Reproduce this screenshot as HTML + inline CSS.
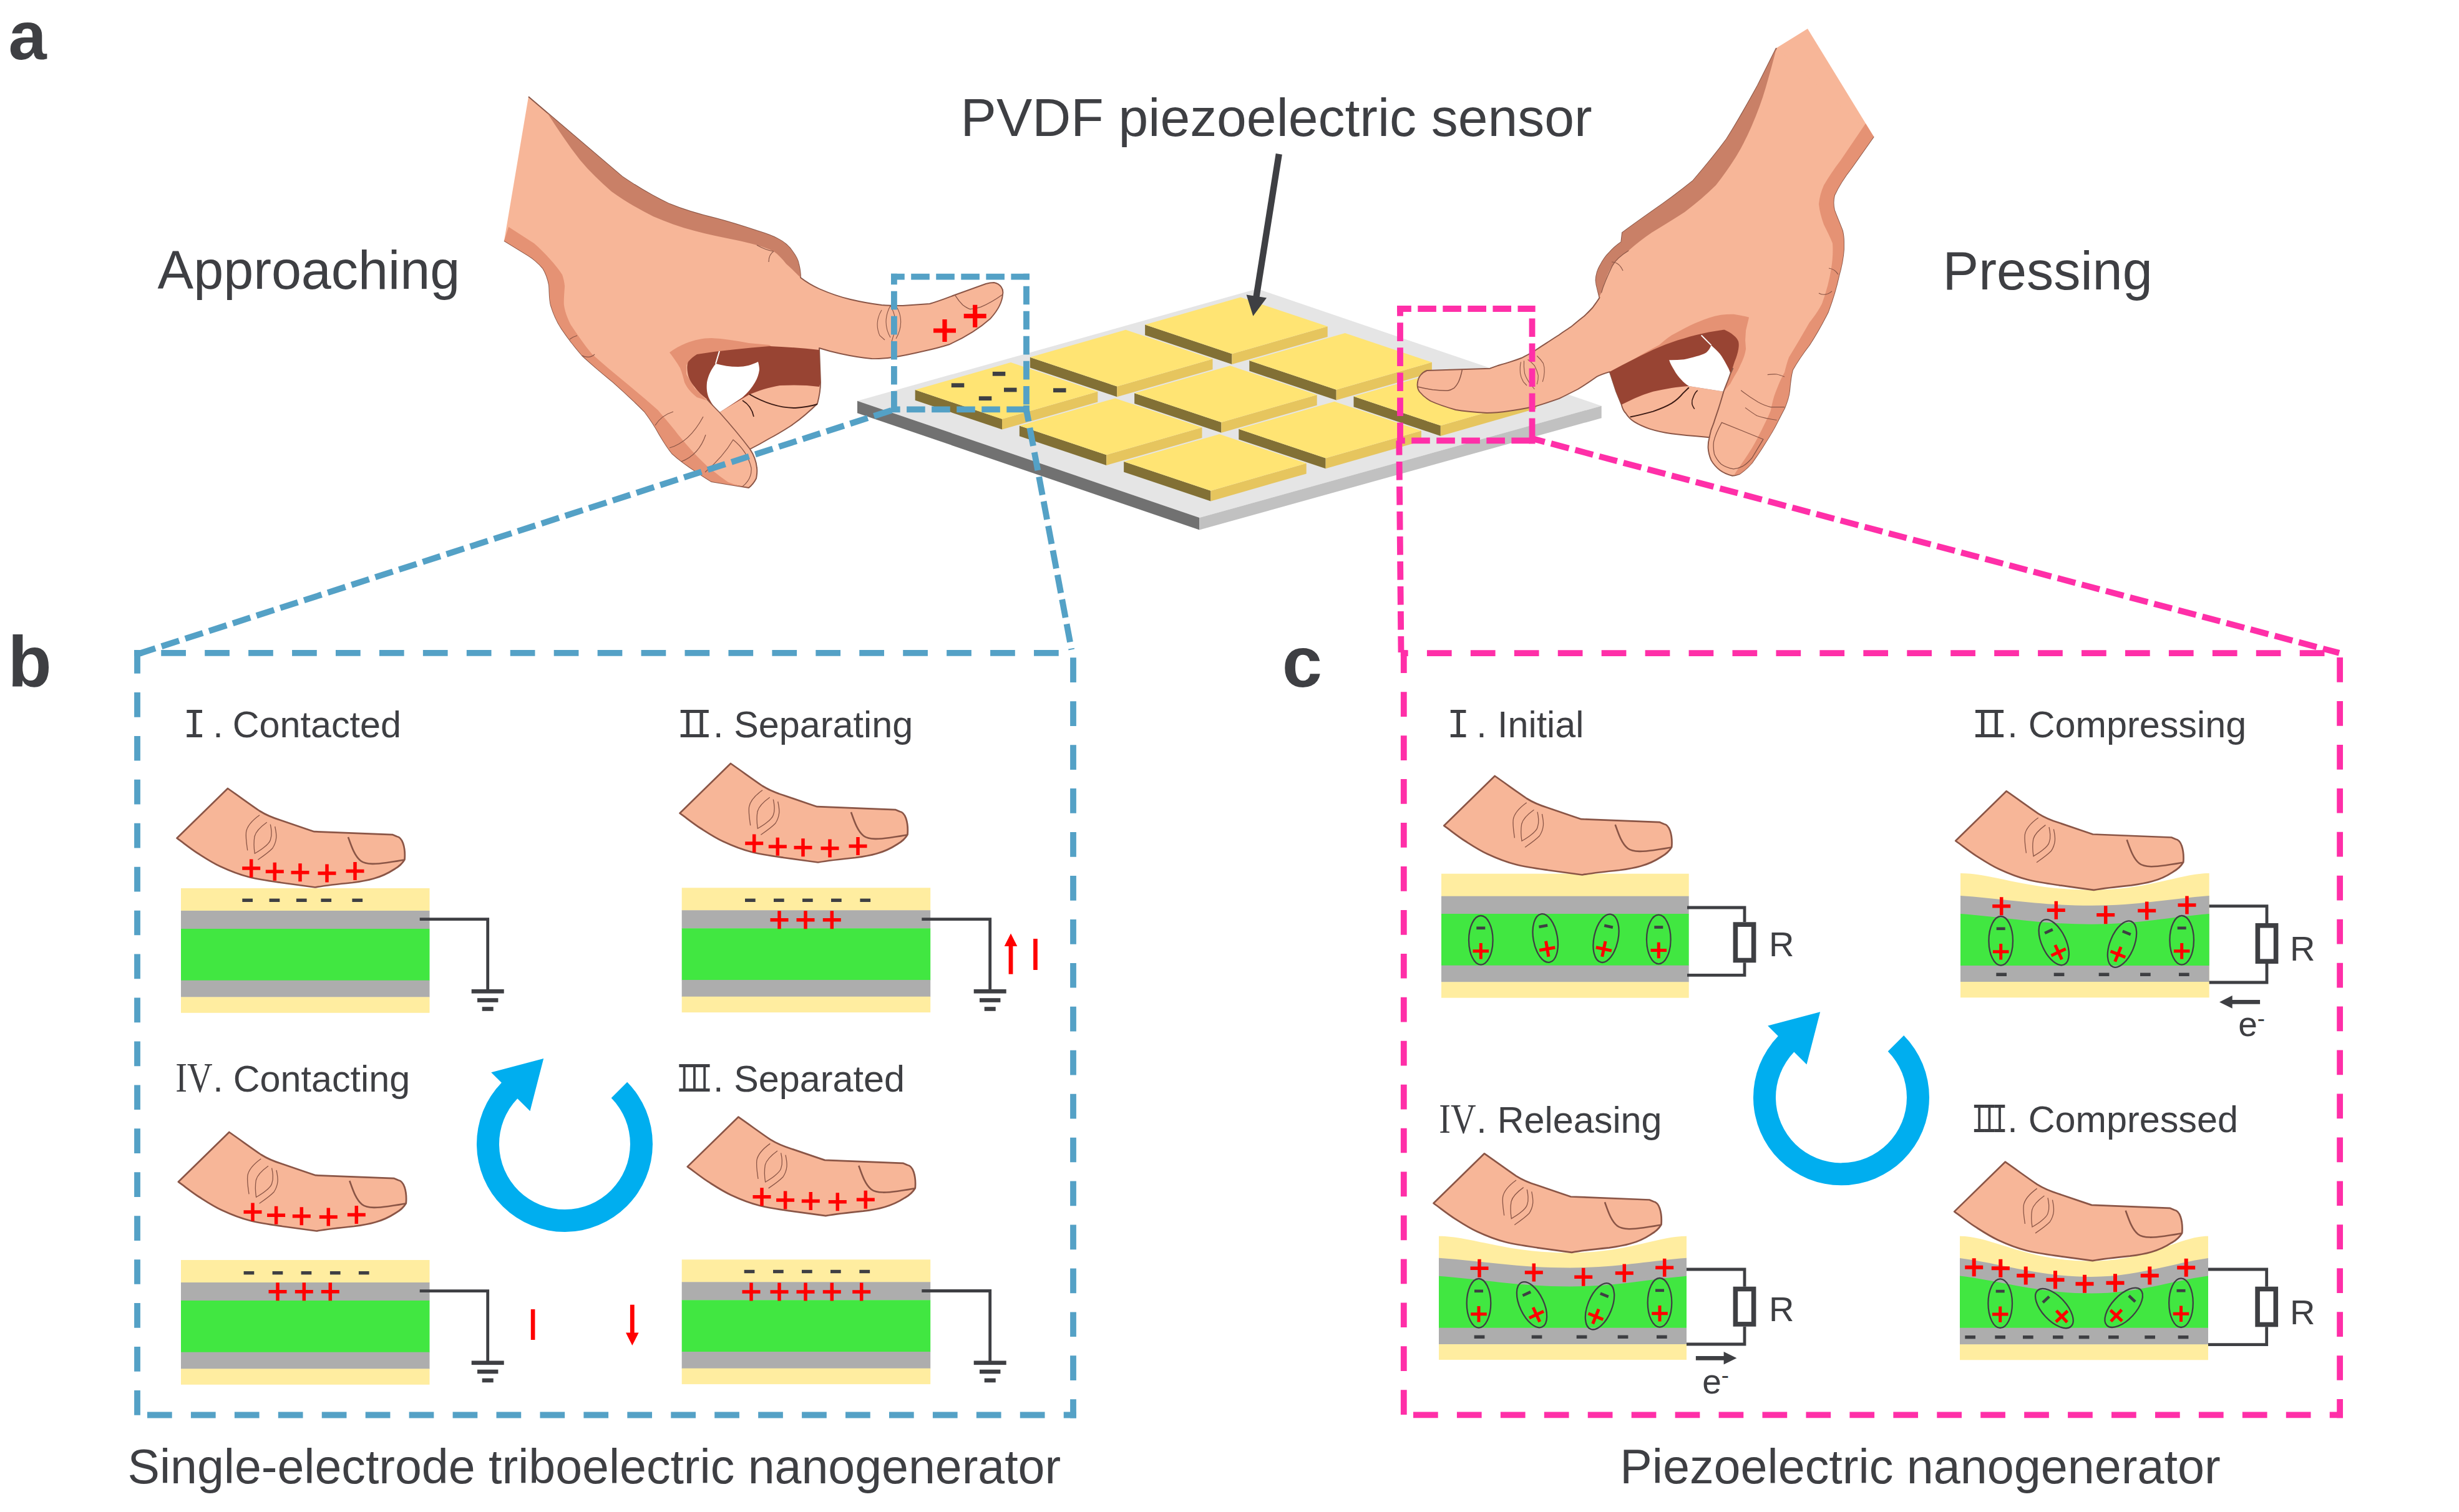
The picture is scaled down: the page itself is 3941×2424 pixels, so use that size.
<!DOCTYPE html>
<html><head><meta charset="utf-8"><title>Figure</title>
<style>html,body{margin:0;padding:0;background:#fff}svg{display:block}</style></head>
<body><svg width="3941" height="2424" viewBox="0 0 3941 2424">
<rect width="3941" height="2424" fill="#fff"/>
<defs><g id="fing">
<path d="M0,0 C20,14 35,25 51,36 C62,43 72,47 85,51 C100,56 120,63 138.5,69.2 L264.5,74.2 L271,77 C276,78 279,82 281,88 C283,94 284.5,102 283.5,114 C280,120 275,125 267,129.5 C257,136 247,141 234,144.5 C222,148 212,149.5 200,151 C180,153 160,155 140,158.5 C122,156 103,153.5 85,151 C68,148.5 50,146 34,142 C18,138 3,132 -12,125 C-25,119 -37,111 -48,104 C-59,97 -70,88 -81.5,79.7 Z" fill="#F7B698" stroke="#8A5546" stroke-width="2.7" stroke-linejoin="round"/>
<path d="M193,78 C198,92 203,108 213,116 C222,123 240,121 255,119 C265,117.5 275,116 283,114.5" fill="none" stroke="#8A5546" stroke-width="2.6"/>
<path d="M51,42.7 C38,52 31,60 29.5,70 C28.5,80 30.5,90 31.7,99.3 M62.7,54.3 C52,62 45,69 43,77 C41.5,86 42,96 43.3,104.3 C49,101 54,98 58.3,94.3 C63,90.5 67,87 68.3,82.7 C70,78 70.3,73 70,69.3 C69.8,65 69,61 68.3,57.7 M75.7,61 C77,67 78.3,73 77.7,79.3 C77,86 75,91 71.7,96 C65,103 56,109 48.3,114.3" fill="none" stroke="#8A5546" stroke-width="1.3"/>
</g><g id="fplus"><path d="M23.2,128.0H52.2M37.7,113.5V142.5" stroke="#FF0000" stroke-width="5.5" fill="none"/><path d="M60.8,133.3H89.8M75.3,118.8V147.8" stroke="#FF0000" stroke-width="5.5" fill="none"/><path d="M101.5,134.7H130.5M116.0,120.2V149.2" stroke="#FF0000" stroke-width="5.5" fill="none"/><path d="M144.5,136.0H173.5M159.0,121.5V150.5" stroke="#FF0000" stroke-width="5.5" fill="none"/><path d="M189.5,132.5H218.5M204.0,118.0V147.0" stroke="#FF0000" stroke-width="5.5" fill="none"/></g><path id="carrow" d="M100.2,-99.2 A141,141 0 1 1 -101.2,-98.2 L-117.8,-114.8 L-33.8,-137 L-55.5,-52.8 L-75.7,-72.7 A105,105 0 1 0 74.7,-73.7 Z" fill="#00AEEF"/><g id="dip"><ellipse cx="0" cy="0" rx="19.3" ry="39.3" fill="none" stroke="#3E3F43" stroke-width="2.3"/><rect x="-7.0" y="-21.8" width="14.0" height="4.6" fill="#3E3F43"/><path d="M-12.8,17.5H12.8M0.0,4.8V30.2" stroke="#FF0000" stroke-width="5" fill="none"/></g></defs>
<polygon points="1374,642.7 2015,463 2566.7,650.7 1922.3,830" fill="#E5E5E5"/>
<polygon points="1374,642.7 1922.3,830 1922.3,849.5 1374,662.2" fill="#717171"/>
<polygon points="1922.3,830 2566.7,650.7 2566.7,670.2 1922.3,849.5" fill="#C1C1C1"/>
<polygon points="1835.1,520.6 1974.4,567.3 1974.4,584.0 1835.1,537.3" fill="#827035"/>
<polygon points="1974.4,567.3 2127.7,523.3 2127.7,540.0 1974.4,584.0" fill="#E6C55E"/>
<polygon points="1835.1,520.6 1988.4,476.6 2127.7,523.3 1974.4,567.3" fill="#FFE473"/>
<polygon points="2002.3,578.1 2141.6,624.8 2141.6,641.5 2002.3,594.8" fill="#827035"/>
<polygon points="2141.6,624.8 2294.9,580.8 2294.9,597.5 2141.6,641.5" fill="#E6C55E"/>
<polygon points="2002.3,578.1 2155.6,534.1 2294.9,580.8 2141.6,624.8" fill="#FFE473"/>
<polygon points="2169.5,635.6 2308.8,682.3 2308.8,699.0 2169.5,652.3" fill="#827035"/>
<polygon points="2308.8,682.3 2462.1,638.3 2462.1,655.0 2308.8,699.0" fill="#E6C55E"/>
<polygon points="2169.5,635.6 2322.8,591.6 2462.1,638.3 2308.8,682.3" fill="#FFE473"/>
<polygon points="1650.9,572.8 1790.2,619.5 1790.2,636.2 1650.9,589.5" fill="#827035"/>
<polygon points="1790.2,619.5 1943.5,575.5 1943.5,592.2 1790.2,636.2" fill="#E6C55E"/>
<polygon points="1650.9,572.8 1804.2,528.8 1943.5,575.5 1790.2,619.5" fill="#FFE473"/>
<polygon points="1818.1,630.3 1957.4,677.0 1957.4,693.7 1818.1,647.0" fill="#827035"/>
<polygon points="1957.4,677.0 2110.7,633.0 2110.7,649.7 1957.4,693.7" fill="#E6C55E"/>
<polygon points="1818.1,630.3 1971.4,586.3 2110.7,633.0 1957.4,677.0" fill="#FFE473"/>
<polygon points="1985.3,687.8 2124.6,734.5 2124.6,751.2 1985.3,704.5" fill="#827035"/>
<polygon points="2124.6,734.5 2277.9,690.5 2277.9,707.2 2124.6,751.2" fill="#E6C55E"/>
<polygon points="1985.3,687.8 2138.6,643.8 2277.9,690.5 2124.6,734.5" fill="#FFE473"/>
<polygon points="1466.7,625.0 1606.0,671.7 1606.0,688.4 1466.7,641.7" fill="#827035"/>
<polygon points="1606.0,671.7 1759.3,627.7 1759.3,644.4 1606.0,688.4" fill="#E6C55E"/>
<polygon points="1466.7,625.0 1620.0,581.0 1759.3,627.7 1606.0,671.7" fill="#FFE473"/>
<polygon points="1633.9,682.5 1773.2,729.2 1773.2,745.9 1633.9,699.2" fill="#827035"/>
<polygon points="1773.2,729.2 1926.5,685.2 1926.5,701.9 1773.2,745.9" fill="#E6C55E"/>
<polygon points="1633.9,682.5 1787.2,638.5 1926.5,685.2 1773.2,729.2" fill="#FFE473"/>
<polygon points="1801.1,740.0 1940.4,786.7 1940.4,803.4 1801.1,756.7" fill="#827035"/>
<polygon points="1940.4,786.7 2093.7,742.7 2093.7,759.4 1940.4,803.4" fill="#E6C55E"/>
<polygon points="1801.1,740.0 1954.4,696.0 2093.7,742.7 1940.4,786.7" fill="#FFE473"/>
<rect x="1590.8" y="595.9" width="20.5" height="6.8" fill="#3E3F43"/>
<rect x="1524.8" y="614.3" width="20.5" height="6.8" fill="#3E3F43"/>
<rect x="1609.0" y="621.6" width="20.5" height="6.8" fill="#3E3F43"/>
<rect x="1568.8" y="635.3" width="20.5" height="6.8" fill="#3E3F43"/>
<rect x="1688.0" y="622.3" width="20.5" height="6.8" fill="#3E3F43"/>
<path d="M2049.8,246.9 L2013.3,477" stroke="#3E3F43" stroke-width="10.3" fill="none"/><polygon points="1997.6,472.5 2030,477.6 2008.3,506.8" fill="#3E3F43"/>
<path d="M847,155 L997,283 C1022,300 1047,315 1073,327 C1097,337 1122,344 1147,350 C1170,356 1192,363 1213,370 C1226,374 1238,378 1247,383 C1257,388 1265,395 1270,403 C1276,411 1279,417 1280,423 C1282,431 1283,438 1283,445 C1292,452 1302,458 1313,463 C1329,470 1346,476 1363,480 C1380,484 1396,487 1413,489 C1425,490 1436,490 1447,490 L1490,487 C1504,483 1517,478 1530,473 C1547,467 1563,461 1580,455 C1585,453.5 1589,453 1593,453 C1603,455 1609,463 1607,472 C1606,486 1598,499 1587,511 C1568,528 1546,541 1522,552 C1508,556.5 1494,560 1480,563 C1463,567 1447,570.5 1430,573 C1419,574.5 1408,575.5 1397,575 C1380,573.5 1363,570.5 1347,567 C1335,564.5 1324,561.5 1313,558 L1315,613 C1315,625 1313,636 1310,647 C1297,660 1283,672 1267,683 C1256,690 1245,697 1233,703 C1223,709 1212,715 1202,720 C1208,729 1212,739 1213,750 C1214,757 1213,762 1212,767 C1209,773 1205,778 1200,782 L1140,772 C1132,767 1124,762 1117,757 C1103,748 1089,738 1077,727 C1069,717 1063,707 1057,697 C1050,684 1042,672 1033,660 C1017,644 1000,628 983,613 C966,599 949,585 933,570 C921,556 910,542 900,527 C892,515 887,503 883,490 C880,479 881,468 880,457 C878,447 875,438 870,430 C863,422 855,415 847,410 L808,386" fill="#F7B698" stroke="#8A5546" stroke-width="1.9" stroke-linejoin="round"/>
<path d="M877,181 L997,283 C1022,300 1047,315 1073,327 C1097,337 1122,344 1147,350 C1170,356 1192,363 1213,370 C1226,374 1238,378 1247,383 C1257,388 1265,395 1270,403 C1276,411 1279,417 1280,423 C1282,431 1283,438 1283,445 C1275,437 1268,430 1260,423 C1254,415 1247,408 1240,403 C1232,399 1223,396 1213,393 C1202,390 1191,387 1180,385 C1157,380 1135,376 1113,370 C1090,364 1068,356 1047,347 C1023,335 1001,322 980,307 C962,291 945,275 930,257 C911,233 894,207 877,181 Z" fill="#C98067"/>
<path d="M808,386 L847,410 C855,415 863,422 870,430 C875,438 878,447 880,457 C881,468 880,479 883,490 C887,503 892,515 900,527 C910,542 921,556 933,570 C949,585 966,599 983,613 C1000,628 1017,644 1033,660 C1042,672 1050,684 1057,697 C1063,707 1069,717 1077,727 C1089,738 1103,748 1117,757 C1124,762 1132,767 1140,772 L1200,782 C1188,780 1177,777 1167,773 C1155,765 1144,756 1133,747 C1124,738 1115,730 1107.5,721 C1098,710 1089,700 1081,689.2 C1072,678 1063,668 1054.5,657.5 C1037,642 1019,627 1001.6,612.5 C984,598 966,583 948.7,567.5 C936,552 925,536 914.3,519.9 C909,509 905,499 903.8,488.1 C903.5,478 904.5,468 905.1,459 C904.5,452 903,446 901.1,440.5 C896,432 889,424 882.6,416.7 C874,407 865,398 856.1,390.3 L815.1,363.8 Z" fill="#E59274"/>
<path d="M1073,565 C1081,559 1090,554 1100,550 C1113,545 1126,542 1140,542 C1160,543 1180,546 1200,550 L1233,553 L1240,558 L1117,570 L1100,585 L1100,600 L1113,622 L1133,642 L1117,637 C1108,630 1101,622 1097,613 C1095,605 1093,597 1090,590 C1085,581 1079,573 1073,565 Z" fill="#E59274"/>
<path d="M1117,568 C1155,562 1194,558 1233,555 C1260,556 1287,558 1313,561 L1315,613 L1313,620 C1292,617 1271,617 1250,618 C1232,621 1216,626 1200,633 L1153,661 C1146,654 1139,647 1133,640 C1125,634 1118,627 1113,620 C1107,613 1103,605 1102,597 C1101,591 1101,585 1103,580 C1107,575 1112,571 1117,568 Z" fill="#984433"/>
<path d="M1147,583 C1140,592 1135,602 1133,613 C1132,623 1133,632 1137,640 C1141,648 1146,655 1153,661 C1166,653 1178,645 1190,637 C1198,630 1205,622 1210,613 C1214,606 1216,600 1217,593 C1217,588 1216,584 1215,580 C1205,585 1194,588 1183,588 C1170,588 1158,586 1147,583 Z" fill="#fff"/>
<path d="M1153,563 L1147,583" stroke="#fff" stroke-width="2" fill="none"/>
<path d="M1201,632 C1225,646 1250,654 1275,654 C1288,653 1300,651 1310,648" stroke="#3a1a14" stroke-width="2" fill="none"/>
<path d="M1190,642 C1200,648 1206,658 1208,668" stroke="#3a1a14" stroke-width="1.6" fill="none"/>
<path d="M1133,640 C1140,648 1147,655 1153,661 C1170,680 1187,700 1202,720" stroke="#8A5546" stroke-width="1.6" fill="none"/>
<path d="M1130,757 C1150,740 1165,722 1175,705 C1190,717 1200,733 1204,750 C1205,762 1200,772 1190,780" stroke="#8A5546" stroke-width="1.2" fill="none"/>
<path d="M1050,682 C1056,672 1066,664 1079,660 M1073,718 C1095,712 1113,694 1127,668 M1092,740 C1110,733 1124,718 1131,697" stroke="#8A5546" stroke-width="1.2" fill="none"/>
<path d="M1213,393 C1222,398 1232,402 1240,403 M1232,420 C1232,412 1235,406 1240,403" stroke="#8A5546" stroke-width="1.2" fill="none"/>
<path d="M913,544 C917,541 921,539 925,538 M933,570 C940,574 948,573 953,568" stroke="#8A5546" stroke-width="1.2" fill="none"/>
<path d="M1413,497 C1405,510 1404,525 1410,538 L1418,545 M1427,490 C1418,507 1418,525 1427,541 M1427,490 C1437,507 1437,525 1431,541 L1429,548 M1437,492 C1446,507 1446,526 1436,543" stroke="#8A5546" stroke-width="1.1" fill="none"/>
<path d="M1530.7,473.3 C1535,480 1539,485 1542.8,488.8 C1547,492 1551,494.5 1554.8,495.7 C1561,495.5 1567,494 1572,492.2 C1584,487 1596,480 1606.4,472.5" stroke="#8A5546" stroke-width="1.3" fill="none"/>
<path d="M1496.0,530.0H1532.0M1514.0,512.0V548.0" stroke="#FF0000" stroke-width="7.2" fill="none"/>
<path d="M1544.7,506.7H1580.7M1562.7,488.7V524.7" stroke="#FF0000" stroke-width="7.2" fill="none"/>
<polygon points="2847,77 2897,46 3003,219 2960,260 2850,110" fill="#F7B698"/>
<path d="M2847,77 C2837,97 2827,117 2817,137 C2801,166 2785,195 2767,223 C2750,246 2732,268 2713,290 C2693,306 2672,322 2650,337 C2633,349 2616,361 2600,373 L2598.3,388 C2591,393 2584,399 2578.4,405.8 C2572,412 2568,419 2564.5,425.6 C2560,433 2558,441 2557.6,449.4 C2558,455 2559,460 2560.6,465.3 L2563.5,477.2 C2560,483 2556,488 2552.6,493 C2548,498 2543,503 2538.7,507 C2532,512 2525,518 2519,523 C2512,528 2505,532 2499,536.7 C2492,541 2486,545 2479,549.6 C2472,554 2466,558 2459.4,562.5 C2453,566.5 2446,570 2439.5,573.5 C2433,576 2426,578.5 2419.7,580.4 C2413,582.5 2406,584.5 2399.8,586.3 L2387.9,590.7 L2287,594 C2279,597 2273,604 2272,613 C2271,619 2272,624 2275,628 C2280,634 2286,639 2293,643 C2306,649 2319,653 2333,657 C2350,660 2366,661 2383,662 C2396,662 2408,660.5 2419.7,658.8 C2433,657 2446,654.5 2459.4,651.8 C2473,648 2486,643.5 2499,638.9 C2509,634 2519,629 2528.8,624 C2539,618 2549,611 2558.6,604.2 C2566,600 2573,598 2579.8,596.1 L2589.8,626.8 L2598.7,648.7 C2600,654 2602,659 2605.6,662.5 C2609,668 2614,673 2619.5,676.4 C2627,681 2635,684.5 2643.3,687.3 C2655,691 2667,693.5 2679,695.3 C2692,697 2705,698.3 2718.7,699.2 L2739.6,701.2 C2738,707 2737.4,712 2737.6,718.1 C2738,725 2740,732 2742.5,737.9 C2746,744 2751,749.5 2756.4,753.8 C2762,758 2769,761 2776.3,762.7 C2780,762.5 2784,761.5 2788.2,759.8 C2795,755 2802,749 2808,741.9 C2815,732 2822,722 2827.9,712.1 C2835,701 2842,690 2847.7,678.4 C2852,670 2856,662 2860,654.6 C2864,645 2867,636 2868,627 C2869,615 2870,604 2873,593 C2881,579 2890,566 2900,553 C2911,536 2921,518 2930,500 C2937,481 2943,462 2947,443 C2951,429 2954,415 2955,400 L2955,387 C2955,381 2954,375 2953,370 C2949,359 2944,348 2940,337 C2938,329 2938,321 2940,313 C2947,298 2956,284 2967,270 L3003,219" fill="#F7B698" stroke="#8A5546" stroke-width="1.9" stroke-linejoin="round"/>
<path d="M2847,77 C2837,97 2827,117 2817,137 C2801,166 2785,195 2767,223 C2750,246 2732,268 2713,290 C2693,306 2672,322 2650,337 C2633,349 2616,361 2600,373 L2598.3,388 C2591,393 2584,399 2578.4,405.8 C2572,412 2568,419 2564.5,425.6 C2560,433 2558,441 2557.6,449.4 C2558,455 2559,460 2560.6,465.3 L2563.5,477.2 C2564,474 2565,472 2566.5,469.3 C2569,461 2571,453 2574.4,445.5 C2577,438 2580,432 2584.4,425.6 C2588,420 2593,414.5 2598.3,409.8 L2610.2,401.8 C2622,391 2634,382 2647,373 C2665,362 2683,351 2700,340 C2718,326 2735,312 2750,297 C2762,282 2773,266 2783,250 C2792,235 2800,219 2807,203 C2816,182 2824,161 2830,140 C2836,119 2842,98 2847,77 Z" fill="#C98067"/>
<path d="M3003,219 L2967,270 C2956,284 2947,298 2940,313 C2938,321 2938,329 2940,337 C2944,348 2949,359 2953,370 C2954,375 2955,381 2955,387 L2955,400 C2954,415 2951,429 2947,443 C2943,462 2937,481 2930,500 C2921,518 2911,536 2900,553 C2890,566 2881,579 2873,593 C2870,604 2869,615 2868,627 C2867,636 2864,645 2860,654.6 C2856,662 2852,670 2847.7,678.4 C2842,690 2835,701 2827.9,712.1 C2822,722 2815,732 2808,741.9 C2802,749 2795,755 2788.2,759.8 L2776.3,762.7 L2779.2,761.7 C2782,757 2785,752 2788.2,747.9 C2795,738 2802,728 2808,718.1 C2814,708 2819,698 2823.9,688.3 C2829,678 2834,668 2837.8,658.6 C2840,648 2842,638 2845.7,628.8 C2850,618 2854,607 2860,597 C2862,589 2864,581 2867,573 C2878,555 2889,536 2900,517 C2908,507 2915,497 2920,487 C2927,468 2932,449 2935,430 C2937,417 2938,403 2937,390 C2933,380 2928,370 2923,360 C2919,349 2916,338 2915,327 C2916,316 2919,306 2923,297 C2931,283 2940,270 2950,257 L2990,198 Z" fill="#E59274"/>
<path d="M2619.5,575.2 C2633,567 2646,560 2659.2,553 C2666,547 2672,542 2679,537.5 C2689,532 2699,526.5 2708.8,521.7 C2719,517 2729,513 2738.6,509.8 C2745,507.5 2752,506 2758.4,504.8 C2765,504 2772,503.7 2778.3,503.8 C2787,505 2795,506.7 2803.1,508.8 L2798.1,529.6 L2797.1,545.5 L2798.1,559.4 C2797,566 2795,573 2792.1,579.2 C2789,586 2786,593 2782.2,599 C2779,604 2776,610 2773.3,615 L2762.4,627.8 L2773.3,599 L2786.2,559.4 L2786.2,547.5 L2763.4,528.6 L2698.9,542.5 Z" fill="#E59274"/>
<path d="M2579.8,596.1 C2593,589 2606,582 2619.5,575.2 C2633,568.5 2646,562 2659.2,556.4 C2672,551 2685,546.5 2698.9,542.5 C2712,538.5 2725,535.5 2738.6,532.6 L2763.4,528.6 C2769,531 2774,534 2778.3,537.5 C2782,540.5 2785,544 2786.2,547.5 C2787,551 2787,555 2786.2,559.4 C2785,566 2783,573 2780.2,579.2 C2778,586 2776,593 2773.3,599 L2766.3,618.9 L2762.4,627.8 L2706.8,618.9 C2697,619.5 2688,620.5 2679,621.9 C2669,623.5 2659,625.5 2649.3,627.8 C2639,631 2629,634.5 2619.5,638.7 L2598.7,648.7 L2589.8,626.8 Z" fill="#984433"/>
<path d="M2675.1,577.2 C2677,583 2680,588 2683,593.1 C2686,599 2690,604 2694.9,609 C2698,613 2702,616 2706.8,618.9 L2762.4,627.8 C2766,618 2770,609 2773.3,599 C2772,593 2769,588 2766.3,583.2 C2763,577 2760,572 2756.4,567.3 C2752,562 2747,557.5 2742.5,553.4 C2741,558 2738,562 2734.6,565.3 C2730,568 2724,570 2718.7,571.3 C2712,573.5 2705,575 2698.9,576.2 C2691,577 2683,577.3 2675.1,577.2 Z" fill="#fff"/>
<path d="M2726.7,537.5 L2742.5,553.4" stroke="#fff" stroke-width="1.8" fill="none"/>
<path d="M2612.6,668.5 C2625,666 2637,663 2649.3,659.6 C2660,656 2670,652 2679,646.7 C2686,642 2692,637 2696.9,630.8 L2706.8,621.3" stroke="#3a1a14" stroke-width="2" fill="none"/>
<path d="M2720.7,625.8 C2717,629 2715,633 2713.8,636.7 C2712,640 2711.5,643 2711.8,646.7 C2712,650 2714,653 2715.8,655.6" stroke="#3a1a14" stroke-width="1.6" fill="none"/>
<path d="M2739.6,701.2 C2741,693 2743,686 2746.5,678.4 C2749,670 2752,662 2754.4,654.6 C2757,646 2760,637 2762.4,627.8 C2766,618 2770,609 2773.3,599 L2777.5,590" stroke="#8A5546" stroke-width="1.9" fill="none"/>
<path d="M2759.4,677.4 L2825.9,704.2 C2820,714 2814,724 2808,734 C2803,740 2798,745 2792.1,747.9 C2788,750 2783,751.5 2778.3,751.8 C2771,750.5 2764,748 2758.4,743.9 C2753,739 2750,734 2747.5,728 C2746,721 2745.8,715 2746.5,708.2 C2749,697 2754,687 2759.4,677.4 Z" stroke="#8A5546" stroke-width="1.3" fill="none"/>
<path d="M2790.2,625.8 C2799,633 2808,639 2817.9,644.7 C2824,648 2831,651 2837.8,652.6 L2860,652.6 M2797.1,653.6 C2803,658 2809,662.5 2815.9,666.5 C2826,670 2837,672 2847.7,673.5 M2832.8,600.6 C2838,600 2843,599.8 2847.7,600 C2852,601 2856,602.5 2860,604" stroke="#8A5546" stroke-width="1.2" fill="none"/>
<path d="M2566.5,469.3 C2570,457 2575,445 2584.4,425.6 C2590,416 2600,408 2610.2,401.8 M2583,420 C2591,420 2597,425 2601,434" stroke="#8A5546" stroke-width="1.2" fill="none"/>
<path d="M2931,430 C2938,431 2943,435 2946,440 M2915,470 C2922,474 2930,472 2936,467" stroke="#8A5546" stroke-width="1.2" fill="none"/>
<path d="M2437.5,580.4 C2436,586 2436,592 2436.5,598.3 C2437,603 2439,608 2441.5,612.1 L2447,618 M2442.5,578.4 C2442,585 2442.5,592 2443.5,598.3 C2445,604 2448,609 2451.4,614.1 L2459.4,624 M2448.5,576.4 C2453,579 2456,582.5 2459.4,586.3 C2462,591 2464,596.5 2465.3,602.2 C2465.5,607 2464.5,612 2463.3,616.1 M2463.3,570.5 C2467,574 2470.5,578 2473.3,582.4 C2475,587 2475.5,591.5 2475.2,596.3 C2475,602 2474,607 2472.3,612.1" stroke="#8A5546" stroke-width="1.1" fill="none"/>
<path d="M2343.3,593 C2342,600 2340,607 2337.3,612.8 C2335.5,616.5 2333,619.5 2330.4,622.2 C2327,624.5 2323.5,625.8 2320,626.2 C2312,626.5 2304,625.8 2296,624.8 C2288,623.5 2280,622 2271.9,620" stroke="#8A5546" stroke-width="1.5" fill="none"/>
<path d="M1433,656.5L221,1048.5" stroke="#54A1C6" stroke-width="9.8" stroke-dasharray="29.6 10.40" stroke-dashoffset="35.60" fill="none"/>
<path d="M1645,657L1717.3,1041.5" stroke="#54A1C6" stroke-width="9.8" stroke-dasharray="29.6 10.40" stroke-dashoffset="10.70" fill="none"/>
<path d="M1428.0,443.7H1649.9" stroke="#54A1C6" stroke-width="9.8" stroke-dasharray="29.6 10.45" stroke-dashoffset="7.85" fill="none"/>
<path d="M1645.0,438.8V661.3" stroke="#54A1C6" stroke-width="9.8" stroke-dasharray="29.6 10.45" stroke-dashoffset="20.15" fill="none"/>
<path d="M1428.0,656.4H1649.9" stroke="#54A1C6" stroke-width="9.8" stroke-dasharray="29.6 10.45" stroke-dashoffset="14.95" fill="none"/>
<path d="M1432.9,438.8V661.3" stroke="#54A1C6" stroke-width="9.8" stroke-dasharray="29.6 10.45" stroke-dashoffset="12.05" fill="none"/>
<path d="M215.1,1046.9H1724.9" stroke="#54A1C6" stroke-width="9.8" stroke-dasharray="39.7 30.24" stroke-dashoffset="26.80" fill="none"/>
<path d="M1720.0,1042.0V2273.4" stroke="#54A1C6" stroke-width="9.8" stroke-dasharray="39.7 30.24" stroke-dashoffset="57.64" fill="none"/>
<path d="M215.1,2268.5H1724.9" stroke="#54A1C6" stroke-width="9.8" stroke-dasharray="39.7 30.24" stroke-dashoffset="49.04" fill="none"/>
<path d="M220.0,1042.0V2273.4" stroke="#54A1C6" stroke-width="9.8" stroke-dasharray="39.7 30.24" stroke-dashoffset="2.00" fill="none"/>
<path d="M2242.3,706.4L2245.5,1046" stroke="#FF2FA8" stroke-width="9.8" stroke-dasharray="29.6 10.40" stroke-dashoffset="6.40" fill="none"/>
<path d="M2455.5,703L3749,1046.8" stroke="#FF2FA8" stroke-width="9.8" stroke-dasharray="29.6 10.40" stroke-dashoffset="8.60" fill="none"/>
<path d="M2239.1,495.0H2460.4" stroke="#FF2FA8" stroke-width="9.8" stroke-dasharray="29.6 10.45" stroke-dashoffset="6.85" fill="none"/>
<path d="M2455.5,490.1V711.3" stroke="#FF2FA8" stroke-width="9.8" stroke-dasharray="29.6 10.45" stroke-dashoffset="19.75" fill="none"/>
<path d="M2239.1,706.4H2460.4" stroke="#FF2FA8" stroke-width="9.8" stroke-dasharray="29.6 10.45" stroke-dashoffset="16.95" fill="none"/>
<path d="M2244.0,490.1V711.3" stroke="#FF2FA8" stroke-width="9.8" stroke-dasharray="29.6 10.45" stroke-dashoffset="12.85" fill="none"/>
<rect x="2450.6" y="700" width="9.8" height="11.3" fill="#FF2FA8"/><rect x="1640.1" y="650" width="9.8" height="11.3" fill="#54A1C6"/>
<path d="M2244.9,1047.1H3755.0" stroke="#FF2FA8" stroke-width="9.8" stroke-dasharray="39.7 30.24" stroke-dashoffset="27.90" fill="none"/>
<path d="M3750.1,1042.2V2273.2" stroke="#FF2FA8" stroke-width="9.8" stroke-dasharray="39.7 30.24" stroke-dashoffset="58.04" fill="none"/>
<path d="M2244.9,2268.3H3755.0" stroke="#FF2FA8" stroke-width="9.8" stroke-dasharray="39.7 30.24" stroke-dashoffset="49.84" fill="none"/>
<path d="M2249.8,1042.2V2273.2" stroke="#FF2FA8" stroke-width="9.8" stroke-dasharray="39.7 30.24" stroke-dashoffset="2.90" fill="none"/>
<rect x="290.0" y="1424.0" width="398.5" height="36.4" fill="#FFEDA0"/><rect x="290.0" y="1460.0" width="398.5" height="29.4" fill="#ADADAD"/><rect x="290.0" y="1489.0" width="398.5" height="83.1" fill="#41E741"/><rect x="290.0" y="1571.7" width="398.5" height="27.1" fill="#ADADAD"/><rect x="290.0" y="1598.4" width="398.5" height="25.4" fill="#FFEDA0"/>
<rect x="388.3" y="1440.6" width="16.7" height="5.4" fill="#3E3F43"/><rect x="431.6" y="1440.6" width="16.7" height="5.4" fill="#3E3F43"/><rect x="474.9" y="1440.6" width="16.7" height="5.4" fill="#3E3F43"/><rect x="514.4" y="1440.6" width="16.7" height="5.4" fill="#3E3F43"/><rect x="564.4" y="1440.6" width="16.7" height="5.4" fill="#3E3F43"/>
<path d="M672.7,1473.7H781.7V1588.5" stroke="#3E3F43" stroke-width="4.8" fill="none"/><rect x="755.7" y="1586.0" width="52" height="6.6" fill="#3E3F43"/><rect x="765.0" y="1600.2" width="33.4" height="6.6" fill="#3E3F43"/><rect x="772.7" y="1614.2" width="18" height="6.6" fill="#3E3F43"/>
<use href="#fing" x="365.0" y="1264.0"/><use href="#fplus" x="365.0" y="1264.0"/>
<text transform="translate(293.3 1181.5) scale(0.93 1)" font-family="Liberation Mono, DejaVu Sans Mono, monospace" font-size="66" letter-spacing="0" fill="#3E3F43">I</text><text x="341.3" y="1181.5" font-family="Liberation Sans, Arial, sans-serif" font-size="59.3" fill="#3E3F43">.</text><text x="372.7" y="1181.5" font-family="Liberation Sans, Arial, sans-serif" font-size="59.3" fill="#3E3F43">Contacted</text>
<rect x="1092.7" y="1423.3" width="398.5" height="36.4" fill="#FFEDA0"/><rect x="1092.7" y="1459.3" width="398.5" height="29.4" fill="#ADADAD"/><rect x="1092.7" y="1488.3" width="398.5" height="83.1" fill="#41E741"/><rect x="1092.7" y="1571.0" width="398.5" height="27.1" fill="#ADADAD"/><rect x="1092.7" y="1597.7" width="398.5" height="25.4" fill="#FFEDA0"/>
<rect x="1194.0" y="1440.6" width="16.7" height="5.4" fill="#3E3F43"/><rect x="1240.0" y="1440.6" width="16.7" height="5.4" fill="#3E3F43"/><rect x="1286.0" y="1440.6" width="16.7" height="5.4" fill="#3E3F43"/><rect x="1332.0" y="1440.6" width="16.7" height="5.4" fill="#3E3F43"/><rect x="1378.4" y="1440.6" width="16.7" height="5.4" fill="#3E3F43"/>
<path d="M1234.5,1474.7H1263.5M1249.0,1460.2V1489.2" stroke="#FF0000" stroke-width="5.5" fill="none"/><path d="M1276.5,1474.7H1305.5M1291.0,1460.2V1489.2" stroke="#FF0000" stroke-width="5.5" fill="none"/><path d="M1318.8,1474.7H1347.8M1333.3,1460.2V1489.2" stroke="#FF0000" stroke-width="5.5" fill="none"/>
<path d="M1477.3,1473.7H1586.7V1588.5" stroke="#3E3F43" stroke-width="4.8" fill="none"/><rect x="1560.7" y="1586.0" width="52" height="6.6" fill="#3E3F43"/><rect x="1570.0" y="1600.2" width="33.4" height="6.6" fill="#3E3F43"/><rect x="1577.7" y="1614.2" width="18" height="6.6" fill="#3E3F43"/>
<use href="#fing" x="1171.0" y="1224.0"/><use href="#fplus" x="1171.0" y="1224.0"/>
<text transform="translate(1084.9 1181.5) scale(0.88 1)" font-family="Liberation Mono, DejaVu Sans Mono, monospace" font-size="66" letter-spacing="-14.9" fill="#3E3F43">II</text><text x="1142.9" y="1181.5" font-family="Liberation Sans, Arial, sans-serif" font-size="59.3" fill="#3E3F43">.</text><text x="1176.3" y="1181.5" font-family="Liberation Sans, Arial, sans-serif" font-size="59.3" fill="#3E3F43">Separating</text>
<path d="M1620,1561.7V1514" stroke="#FF0000" stroke-width="6.8" fill="none"/><polygon points="1609.7,1517 1630.3,1517 1620,1496.5" fill="#FF0000"/>
<text x="1649.6" y="1555" font-family="Liberation Sans, Arial, sans-serif" font-size="71.7" fill="#FF0000">I</text>
<rect x="1092.7" y="2019.3" width="398.5" height="36.4" fill="#FFEDA0"/><rect x="1092.7" y="2055.3" width="398.5" height="29.4" fill="#ADADAD"/><rect x="1092.7" y="2084.3" width="398.5" height="83.1" fill="#41E741"/><rect x="1092.7" y="2167.0" width="398.5" height="27.1" fill="#ADADAD"/><rect x="1092.7" y="2193.7" width="398.5" height="25.4" fill="#FFEDA0"/>
<rect x="1192.7" y="2035.8" width="16.7" height="5.4" fill="#3E3F43"/><rect x="1239.0" y="2035.8" width="16.7" height="5.4" fill="#3E3F43"/><rect x="1285.0" y="2035.8" width="16.7" height="5.4" fill="#3E3F43"/><rect x="1331.0" y="2035.8" width="16.7" height="5.4" fill="#3E3F43"/><rect x="1377.4" y="2035.8" width="16.7" height="5.4" fill="#3E3F43"/>
<path d="M1189.5,2071.0H1218.5M1204.0,2056.5V2085.5" stroke="#FF0000" stroke-width="5.5" fill="none"/><path d="M1234.5,2071.0H1263.5M1249.0,2056.5V2085.5" stroke="#FF0000" stroke-width="5.5" fill="none"/><path d="M1276.5,2071.0H1305.5M1291.0,2056.5V2085.5" stroke="#FF0000" stroke-width="5.5" fill="none"/><path d="M1318.8,2071.0H1347.8M1333.3,2056.5V2085.5" stroke="#FF0000" stroke-width="5.5" fill="none"/><path d="M1366.2,2071.0H1395.2M1380.7,2056.5V2085.5" stroke="#FF0000" stroke-width="5.5" fill="none"/>
<path d="M1477.3,2069.5H1586.7V2184.0" stroke="#3E3F43" stroke-width="4.8" fill="none"/><rect x="1560.7" y="2181.5" width="52" height="6.6" fill="#3E3F43"/><rect x="1570.0" y="2195.7" width="33.4" height="6.6" fill="#3E3F43"/><rect x="1577.7" y="2209.7" width="18" height="6.6" fill="#3E3F43"/>
<use href="#fing" x="1183.3" y="1790.7"/><use href="#fplus" x="1183.3" y="1790.7"/>
<text transform="translate(1084.2 1749.5) scale(0.63 1)" font-family="Liberation Mono, DejaVu Sans Mono, monospace" font-size="66" letter-spacing="-13.7" fill="#3E3F43">III</text><text x="1142.9" y="1749.5" font-family="Liberation Sans, Arial, sans-serif" font-size="59.3" fill="#3E3F43">.</text><text x="1176.3" y="1749.5" font-family="Liberation Sans, Arial, sans-serif" font-size="59.3" fill="#3E3F43">Separated</text>
<rect x="290.0" y="2020.0" width="398.5" height="36.4" fill="#FFEDA0"/><rect x="290.0" y="2056.0" width="398.5" height="29.4" fill="#ADADAD"/><rect x="290.0" y="2085.0" width="398.5" height="83.1" fill="#41E741"/><rect x="290.0" y="2167.7" width="398.5" height="27.1" fill="#ADADAD"/><rect x="290.0" y="2194.4" width="398.5" height="25.4" fill="#FFEDA0"/>
<rect x="390.6" y="2038.0" width="16.7" height="5.4" fill="#3E3F43"/><rect x="436.6" y="2038.0" width="16.7" height="5.4" fill="#3E3F43"/><rect x="482.6" y="2038.0" width="16.7" height="5.4" fill="#3E3F43"/><rect x="528.9" y="2038.0" width="16.7" height="5.4" fill="#3E3F43"/><rect x="574.9" y="2038.0" width="16.7" height="5.4" fill="#3E3F43"/>
<path d="M430.5,2070.7H459.5M445.0,2056.2V2085.2" stroke="#FF0000" stroke-width="5.5" fill="none"/><path d="M472.8,2070.7H501.8M487.3,2056.2V2085.2" stroke="#FF0000" stroke-width="5.5" fill="none"/><path d="M514.8,2070.7H543.8M529.3,2056.2V2085.2" stroke="#FF0000" stroke-width="5.5" fill="none"/>
<path d="M672.7,2069.7H781.7V2184.0" stroke="#3E3F43" stroke-width="4.8" fill="none"/><rect x="755.7" y="2181.5" width="52" height="6.6" fill="#3E3F43"/><rect x="765.0" y="2195.7" width="33.4" height="6.6" fill="#3E3F43"/><rect x="772.7" y="2209.7" width="18" height="6.6" fill="#3E3F43"/>
<use href="#fing" x="367.3" y="1815.0"/><use href="#fplus" x="367.3" y="1815.0"/>
<text transform="translate(281.3 1749.5) scale(0.84 1)" font-family="Liberation Serif, Times New Roman, serif" font-size="67" fill="#3E3F43">IV</text><text x="341.3" y="1749.5" font-family="Liberation Sans, Arial, sans-serif" font-size="59.3" fill="#3E3F43">.</text><text x="373.7" y="1749.5" font-family="Liberation Sans, Arial, sans-serif" font-size="59.3" fill="#3E3F43">Contacting</text>
<text x="844.3" y="2147.5" font-family="Liberation Sans, Arial, sans-serif" font-size="71" fill="#FF0000">I</text>
<path d="M1013.3,2091.7V2140" stroke="#FF0000" stroke-width="6.8" fill="none"/><polygon points="1003,2136.5 1023.6,2136.5 1013.3,2157" fill="#FF0000"/>
<use href="#carrow" x="905" y="1834"/>
<rect x="2310.0" y="1400.7" width="396.7" height="36.4" fill="#FFEDA0"/><rect x="2310.0" y="1436.7" width="396.7" height="28.7" fill="#ADADAD"/><rect x="2310.0" y="1465.0" width="396.7" height="83.1" fill="#41E741"/><rect x="2310.0" y="1547.7" width="396.7" height="27.0" fill="#ADADAD"/><rect x="2310.0" y="1574.3" width="396.7" height="25.4" fill="#FFEDA0"/>
<use href="#dip" transform="translate(2373.3 1507.3) rotate(0)"/>
<use href="#dip" transform="translate(2476.7 1504.0) rotate(-10)"/>
<use href="#dip" transform="translate(2574.0 1504.3) rotate(12)"/>
<use href="#dip" transform="translate(2658.3 1506.0) rotate(0)"/>
<path d="M2704.0,1455.0H2796.0V1478.3M2796.0,1543.3V1563.3H2704.0" stroke="#3E3F43" stroke-width="4.8" fill="none"/><rect x="2781.4" y="1482.1" width="29.2" height="57.4" stroke="#3E3F43" stroke-width="7.6" fill="#fff"/><text x="2835.0" y="1533.3" font-family="Liberation Sans, Arial, sans-serif" font-size="56" fill="#3E3F43">R</text>
<use href="#fing" x="2395.7" y="1244.0"/>
<text transform="translate(2318.8 1181.5) scale(0.93 1)" font-family="Liberation Mono, DejaVu Sans Mono, monospace" font-size="66" letter-spacing="0" fill="#3E3F43">I</text><text x="2366.3" y="1181.5" font-family="Liberation Sans, Arial, sans-serif" font-size="59.3" fill="#3E3F43">.</text><text x="2400.0" y="1181.5" font-family="Liberation Sans, Arial, sans-serif" font-size="59.3" fill="#3E3F43">Initial</text>
<rect x="3142.0" y="1547.7" width="398.7" height="51.6" fill="#FFEDA0"/><rect x="3142.0" y="1547.7" width="398.7" height="26.3" fill="#ADADAD"/><path d="M3142.0,1548.1 L3142.0,1400.0 C3194.5,1400.0 3247.0,1426.7 3352.0,1426.7 C3446.3,1426.7 3493.5,1400.0 3540.7,1400.0 L3540.7,1548.1 Z" fill="#FFEDA0"/><path d="M3142.0,1548.1 L3142.0,1436.0 C3211.3,1440.7 3268.0,1451.7 3352.0,1451.7 C3427.5,1451.7 3478.4,1440.7 3540.7,1436.0 L3540.7,1548.1 Z" fill="#ADADAD"/><path d="M3142.0,1548.1 L3142.0,1465.0 C3211.3,1470.0 3268.0,1481.7 3352.0,1481.7 C3427.5,1481.7 3478.4,1470.0 3540.7,1465.0 L3540.7,1548.1 Z" fill="#41E741"/>
<path d="M3193.2,1452.7H3222.2M3207.7,1438.2V1467.2" stroke="#FF0000" stroke-width="5.5" fill="none"/><path d="M3280.8,1459.3H3309.8M3295.3,1444.8V1473.8" stroke="#FF0000" stroke-width="5.5" fill="none"/><path d="M3360.2,1466.7H3389.2M3374.7,1452.2V1481.2" stroke="#FF0000" stroke-width="5.5" fill="none"/><path d="M3426.2,1460.0H3455.2M3440.7,1445.5V1474.5" stroke="#FF0000" stroke-width="5.5" fill="none"/><path d="M3490.5,1451.0H3519.5M3505.0,1436.5V1465.5" stroke="#FF0000" stroke-width="5.5" fill="none"/>
<use href="#dip" transform="translate(3206.7 1508.3) rotate(0)"/>
<use href="#dip" transform="translate(3291.7 1510.7) rotate(-25)"/>
<use href="#dip" transform="translate(3401.0 1513.6) rotate(22)"/>
<use href="#dip" transform="translate(3496.7 1507.3) rotate(0)"/>
<rect x="3199.3" y="1559.6" width="16.7" height="5.4" fill="#3E3F43"/><rect x="3291.7" y="1559.6" width="16.7" height="5.4" fill="#3E3F43"/><rect x="3363.7" y="1559.6" width="16.7" height="5.4" fill="#3E3F43"/><rect x="3430.0" y="1559.6" width="16.7" height="5.4" fill="#3E3F43"/><rect x="3492.0" y="1559.6" width="16.7" height="5.4" fill="#3E3F43"/>
<path d="M3540.7,1452.7H3633.0V1480.0M3633.0,1545.0V1575.0H3540.7" stroke="#3E3F43" stroke-width="4.8" fill="none"/><rect x="3618.4" y="1483.8" width="29.2" height="57.4" stroke="#3E3F43" stroke-width="7.6" fill="#fff"/><text x="3670.0" y="1540.0" font-family="Liberation Sans, Arial, sans-serif" font-size="56" fill="#3E3F43">R</text>
<use href="#fing" x="3215.7" y="1268.3"/>
<text transform="translate(3160.3 1181.5) scale(0.88 1)" font-family="Liberation Mono, DejaVu Sans Mono, monospace" font-size="66" letter-spacing="-14.9" fill="#3E3F43">II</text><text x="3217.3" y="1181.5" font-family="Liberation Sans, Arial, sans-serif" font-size="59.3" fill="#3E3F43">.</text><text x="3250.8" y="1181.5" font-family="Liberation Sans, Arial, sans-serif" font-size="59.3" fill="#3E3F43">Compressing</text>
<path d="M3622.1,1606.4H3576" stroke="#3E3F43" stroke-width="6.9" fill="none"/><polygon points="3577.7,1596.1 3577.7,1616.7 3557,1606.4" fill="#3E3F43"/>
<text x="3587.2" y="1661.3" font-family="Liberation Sans, Arial, sans-serif" font-size="55" fill="#3E3F43">e<tspan dy="-16.4" font-size="36.7">-</tspan></text>
<rect x="3141.0" y="2128.3" width="398.0" height="52.0" fill="#FFEDA0"/><rect x="3141.0" y="2128.3" width="398.0" height="26.9" fill="#ADADAD"/><path d="M3141.0,2128.7 L3141.0,1981.7 C3193.5,1981.7 3246.0,2021.7 3351.0,2021.7 C3445.0,2021.7 3492.0,1981.7 3539.0,1981.7 L3539.0,2128.7 Z" fill="#FFEDA0"/><path d="M3141.0,2128.7 L3141.0,2016.9 C3210.3,2025.9 3267.0,2046.9 3351.0,2046.9 C3426.2,2046.9 3477.0,2025.9 3539.0,2016.9 L3539.0,2128.7 Z" fill="#ADADAD"/><path d="M3141.0,2128.7 L3141.0,2045.5 C3210.3,2053.9 3267.0,2073.5 3351.0,2073.5 C3426.2,2073.5 3477.0,2053.9 3539.0,2045.5 L3539.0,2128.7 Z" fill="#41E741"/>
<path d="M3149.2,2031.7H3178.2M3163.7,2017.2V2046.2" stroke="#FF0000" stroke-width="6" fill="none"/><path d="M3191.8,2033.3H3220.8M3206.3,2018.8V2047.8" stroke="#FF0000" stroke-width="6" fill="none"/><path d="M3232.2,2045.0H3261.2M3246.7,2030.5V2059.5" stroke="#FF0000" stroke-width="6" fill="none"/><path d="M3279.5,2051.7H3308.5M3294.0,2037.2V2066.2" stroke="#FF0000" stroke-width="6" fill="none"/><path d="M3326.5,2058.3H3355.5M3341.0,2043.8V2072.8" stroke="#FF0000" stroke-width="6" fill="none"/><path d="M3375.5,2056.7H3404.5M3390.0,2042.2V2071.2" stroke="#FF0000" stroke-width="6" fill="none"/><path d="M3430.8,2045.0H3459.8M3445.3,2030.5V2059.5" stroke="#FF0000" stroke-width="6" fill="none"/><path d="M3489.2,2032.3H3518.2M3503.7,2017.8V2046.8" stroke="#FF0000" stroke-width="6" fill="none"/>
<use href="#dip" transform="translate(3205.7 2089.6) rotate(0)"/>
<use href="#dip" transform="translate(3292.4 2097.6) rotate(-43)"/>
<use href="#dip" transform="translate(3403.7 2096.3) rotate(43)"/>
<use href="#dip" transform="translate(3495.5 2088.7) rotate(0)"/>
<rect x="3149.3" y="2141.0" width="16.7" height="5.4" fill="#3E3F43"/><rect x="3197.3" y="2141.0" width="16.7" height="5.4" fill="#3E3F43"/><rect x="3242.0" y="2141.0" width="16.7" height="5.4" fill="#3E3F43"/><rect x="3290.0" y="2141.0" width="16.7" height="5.4" fill="#3E3F43"/><rect x="3331.7" y="2141.0" width="16.7" height="5.4" fill="#3E3F43"/><rect x="3379.0" y="2141.0" width="16.7" height="5.4" fill="#3E3F43"/><rect x="3437.3" y="2141.0" width="16.7" height="5.4" fill="#3E3F43"/><rect x="3490.7" y="2141.0" width="16.7" height="5.4" fill="#3E3F43"/>
<path d="M3539.0,2035.0H3632.7V2062.7M3632.7,2127.3V2155.7H3539.0" stroke="#3E3F43" stroke-width="4.8" fill="none"/><rect x="3618.1" y="2066.5" width="29.2" height="57.0" stroke="#3E3F43" stroke-width="7.6" fill="#fff"/><text x="3670.0" y="2122.7" font-family="Liberation Sans, Arial, sans-serif" font-size="56" fill="#3E3F43">R</text>
<use href="#fing" x="3213.7" y="1862.7"/>
<text transform="translate(3159.8 1815.3) scale(0.63 1)" font-family="Liberation Mono, DejaVu Sans Mono, monospace" font-size="66" letter-spacing="-13.7" fill="#3E3F43">III</text><text x="3217.3" y="1815.3" font-family="Liberation Sans, Arial, sans-serif" font-size="59.3" fill="#3E3F43">.</text><text x="3250.8" y="1815.3" font-family="Liberation Sans, Arial, sans-serif" font-size="59.3" fill="#3E3F43">Compressed</text>
<rect x="2306.0" y="2128.3" width="397.0" height="51.7" fill="#FFEDA0"/><rect x="2306.0" y="2128.3" width="397.0" height="26.7" fill="#ADADAD"/><path d="M2306.0,2128.7 L2306.0,1981.7 C2358.5,1981.7 2411.0,2008.4 2516.0,2008.4 C2609.5,2008.4 2656.2,1981.7 2703.0,1981.7 L2703.0,2128.7 Z" fill="#FFEDA0"/><path d="M2306.0,2128.7 L2306.0,2016.7 C2375.3,2021.4 2432.0,2032.4 2516.0,2032.4 C2590.8,2032.4 2641.3,2021.4 2703.0,2016.7 L2703.0,2128.7 Z" fill="#ADADAD"/><path d="M2306.0,2128.7 L2306.0,2045.7 C2375.3,2050.7 2432.0,2062.4 2516.0,2062.4 C2590.8,2062.4 2641.3,2050.7 2703.0,2045.7 L2703.0,2128.7 Z" fill="#41E741"/>
<path d="M2356.5,2033.3H2385.5M2371.0,2018.8V2047.8" stroke="#FF0000" stroke-width="5.5" fill="none"/><path d="M2443.8,2040.0H2472.8M2458.3,2025.5V2054.5" stroke="#FF0000" stroke-width="5.5" fill="none"/><path d="M2523.2,2047.3H2552.2M2537.7,2032.8V2061.8" stroke="#FF0000" stroke-width="5.5" fill="none"/><path d="M2588.8,2041.0H2617.8M2603.3,2026.5V2055.5" stroke="#FF0000" stroke-width="5.5" fill="none"/><path d="M2653.2,2032.3H2682.2M2667.7,2017.8V2046.8" stroke="#FF0000" stroke-width="5.5" fill="none"/>
<use href="#dip" transform="translate(2370.0 2089.3) rotate(0)"/>
<use href="#dip" transform="translate(2455.0 2091.7) rotate(-25)"/>
<use href="#dip" transform="translate(2564.0 2094.3) rotate(22)"/>
<use href="#dip" transform="translate(2660.0 2088.3) rotate(0)"/>
<rect x="2362.7" y="2140.6" width="16.7" height="5.4" fill="#3E3F43"/><rect x="2454.7" y="2140.6" width="16.7" height="5.4" fill="#3E3F43"/><rect x="2526.7" y="2140.6" width="16.7" height="5.4" fill="#3E3F43"/><rect x="2592.7" y="2140.6" width="16.7" height="5.4" fill="#3E3F43"/><rect x="2655.0" y="2140.6" width="16.7" height="5.4" fill="#3E3F43"/>
<path d="M2703.0,2035.0H2796.0V2062.7M2796.0,2126.7V2155.0H2703.0" stroke="#3E3F43" stroke-width="4.8" fill="none"/><rect x="2781.4" y="2066.5" width="29.2" height="56.4" stroke="#3E3F43" stroke-width="7.6" fill="#fff"/><text x="2835.0" y="2118.3" font-family="Liberation Sans, Arial, sans-serif" font-size="56" fill="#3E3F43">R</text>
<use href="#fing" x="2379.0" y="1849.3"/>
<text transform="translate(2306.3 1815.5) scale(0.84 1)" font-family="Liberation Serif, Times New Roman, serif" font-size="67" fill="#3E3F43">IV</text><text x="2366.3" y="1815.5" font-family="Liberation Sans, Arial, sans-serif" font-size="59.3" fill="#3E3F43">.</text><text x="2399.8" y="1815.5" font-family="Liberation Sans, Arial, sans-serif" font-size="59.3" fill="#3E3F43">Releasing</text>
<path d="M2717.9,2177.3H2764" stroke="#3E3F43" stroke-width="6.8" fill="none"/><polygon points="2762.6,2167 2762.6,2187.6 2783.4,2177.3" fill="#3E3F43"/>
<text x="2728.2" y="2233.6" font-family="Liberation Sans, Arial, sans-serif" font-size="55" fill="#3E3F43">e<tspan dy="-16.4" font-size="36.7">-</tspan></text>
<use href="#carrow" x="2951" y="1759.3"/>
<text x="13.6" y="94.9" font-family="Liberation Sans, Arial, sans-serif" font-size="110" font-weight="bold" fill="#3E3F43" text-anchor="start">a</text>
<text x="12.4" y="1100.5" font-family="Liberation Sans, Arial, sans-serif" font-size="115" font-weight="bold" fill="#3E3F43" text-anchor="start">b</text>
<text x="2054.8" y="1101.1" font-family="Liberation Sans, Arial, sans-serif" font-size="115.5" font-weight="bold" fill="#3E3F43" text-anchor="start">c</text>
<text x="252.6" y="463.3" font-family="Liberation Sans, Arial, sans-serif" font-size="86.3" fill="#3E3F43" text-anchor="start">Approaching</text>
<text x="3113.6" y="464.4" font-family="Liberation Sans, Arial, sans-serif" font-size="86.4" fill="#3E3F43" text-anchor="start">Pressing</text>
<text x="1539.6" y="218" font-family="Liberation Sans, Arial, sans-serif" font-size="85.9" fill="#3E3F43" text-anchor="start">PVDF piezoelectric sensor</text>
<text x="204.5" y="2377.5" font-family="Liberation Sans, Arial, sans-serif" font-size="77.1" fill="#3E3F43" text-anchor="start">Single-electrode triboelectric nanogenerator</text>
<text x="2596.2" y="2377.5" font-family="Liberation Sans, Arial, sans-serif" font-size="77.3" fill="#3E3F43" text-anchor="start">Piezoelectric nanogenerator</text>
</svg></body></html>
